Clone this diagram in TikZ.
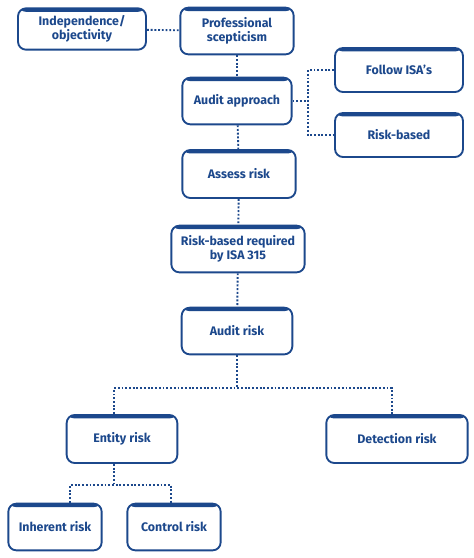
\documentclass[tikz,border=0pt]{standalone}
\usepackage{fontspec}
\setmainfont{Fira Sans}
\usepackage{tikz}
\usetikzlibrary{positioning}

\definecolor{auditblue}{RGB}{28,72,140}

\tikzset{
    riskbox/.style={draw=auditblue, line width=1.4pt, rounded corners=6pt, fill=white,
        align=center, text=auditblue, font=\fontsize{9.3}{10.8}\selectfont\bfseries,
        inner sep=0pt,
        path picture={\fill[auditblue] ([yshift=1pt]path picture bounding box.north west)
            rectangle ([yshift=-2.6pt]path picture bounding box.north east);}},
    link/.style={auditblue, line width=1.4pt, dash pattern=on 1.4pt off 1.4pt}
}

\begin{document}
\begin{tikzpicture}[x=0.75pt, y=-0.75pt]
\useasboundingbox (0,0) rectangle (474,558);

% Boxes in the top row
\node[riskbox, minimum width=96pt, minimum height=31pt] (Indep) at (82,29) {Independence/\\objectivity};
\node[riskbox, minimum width=85pt, minimum height=35pt] (Scept) at (237,31) {Professional\\scepticism};

% Approach and its two branches
\node[riskbox, minimum width=82pt, minimum height=35pt] (Approach) at (237,101) {Audit approach};
\node[riskbox, minimum width=96pt, minimum height=33pt] (FollowISA) at (399,70) {Follow ISA's};
\node[riskbox, minimum width=96pt, minimum height=33pt] (RiskBased) at (399,135) {Risk-based};

% Main column
\node[riskbox, minimum width=85pt, minimum height=36pt] (Assess) at (239,174) {Assess risk};
\node[riskbox, minimum width=100pt, minimum height=35pt] (Required) at (238,249) {Risk-based required\\by ISA 315};
\node[riskbox, minimum width=83pt, minimum height=35pt] (AuditRisk) at (237,331) {Audit risk};

% Components of audit risk
\node[riskbox, minimum width=83pt, minimum height=36pt] (Entity) at (122,439) {Entity risk};
\node[riskbox, minimum width=106pt, minimum height=36pt] (Detection) at (397,439) {Detection risk};
\node[riskbox, minimum width=70pt, minimum height=35pt] (Inherent) at (55,527) {Inherent risk};
\node[riskbox, minimum width=70pt, minimum height=35pt] (Control) at (174,527) {Control risk};

% Joints of the dotted lines
\coordinate (ApproachJoint) at (308,101);
\coordinate (AuditJoint) at (237,388);
\coordinate (EntityJoint) at (114,485);

% Dotted connectors
\draw[link] (Indep) -- (Scept);
\draw[link] (Scept) -- (Approach);
\draw[link] (Approach) -- (ApproachJoint);
\draw[link] (FollowISA.west) -| (ApproachJoint) |- (RiskBased.west);
\draw[link] (Approach) -- (Assess);
\draw[link] (Assess) -- (Required);
\draw[link] (Required) -- (AuditRisk);
\draw[link] (AuditRisk) -- (AuditJoint);
\draw[link] (Entity.north -| EntityJoint) |- (AuditJoint) -| (Detection.north -| 392,0);
\draw[link] (Entity.south -| EntityJoint) -- (EntityJoint);
\draw[link] (Inherent.north -| 70,0) |- (EntityJoint) -| (Control.north -| 171,0);

\end{tikzpicture}
\end{document}
